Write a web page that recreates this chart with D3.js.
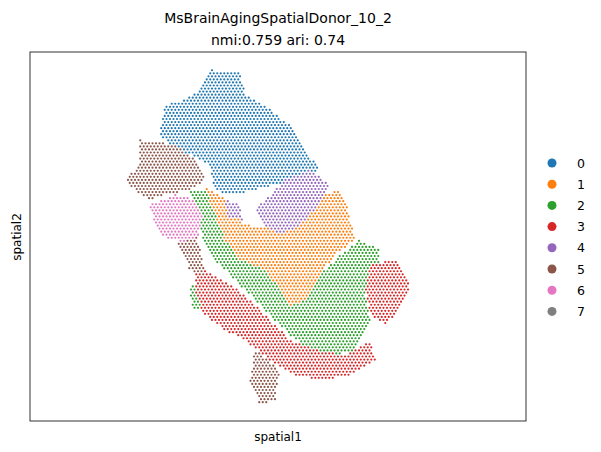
<!DOCTYPE html>
<html><head><meta charset="utf-8">
<script src="https://cdn.jsdelivr.net/npm/d3@7"></script>
<style>body{margin:0;background:#fff}text{font-family:"DejaVu Sans",sans-serif}</style>
</head><body><div id="chart"></div>
<script>
// cluster labels and colours
const clusters = ["0","1","2","3","4","5","6","7"];
const colors = ["#1f77b4","#ff7f0e","#2ca02c","#d62728","#9467bd","#8c564b","#e377c2","#7f7f7f"];

// outlines of each cluster region (spatial units)
const region6 = [[120,153],[145,143],[165,148],[172,163],[168,183],[155,190],[135,186],[125,173]];
const region5 = [[110,88],[145,93],[165,108],[175,128],[160,138],[135,143],[120,148],[105,138],[95,128],[110,113]];
const region5b = [[140,158],[155,163],[170,193],[175,223],[160,218],[148,193]];
const region5c = [[225,298],[250,318],[245,348],[230,353],[220,328]];
const region4 = [[255,128],[280,118],[300,133],[290,153],[270,173],[250,183],[235,173],[225,158],[240,143]];
const region4b = [[195,148],[210,153],[212,168],[198,166]];
const region1 = [[175,136],[190,143],[215,173],[235,176],[270,173],[290,143],[310,138],[318,158],[325,188],[305,203],[290,223],[275,248],[260,253],[250,238],[235,218],[210,208],[195,188],[185,163]];
const region0 = [[180,18],[210,20],[215,43],[240,58],[260,73],[275,98],[290,118],[270,128],[245,133],[225,138],[200,143],[185,138],[180,113],[160,103],[145,98],[130,83],[135,53],[155,48],[170,38]];
const region3 = [[165,213],[185,223],[215,243],[240,268],[260,288],[285,298],[315,303],[340,288],[345,308],[320,323],[290,328],[265,323],[240,308],[215,288],[195,278],[175,263],[165,243]];
const region3b = [[340,213],[365,208],[380,233],[370,258],[355,273],[340,263],[335,238]];
const region2 = [[160,138],[180,138],[185,163],[195,188],[210,208],[235,218],[255,243],[270,253],[290,223],[310,203],[330,188],[350,198],[348,218],[335,238],[340,268],[325,298],[305,303],[280,298],[260,283],[240,263],[220,243],[200,223],[180,203],[170,178]];
const region2b = [[160,233],[170,235],[172,258],[162,256]];

// draw order / priority: [cluster index, polygon]
const regions = [[6,region6],[5,region5],[5,region5b],[5,region5c],[4,region4],[4,region4b],
  [1,region1],[0,region0],[3,region3],[3,region3b],[2,region2],[2,region2b]];

const W = 601, H = 452;
const frame = {left:30, top:52, right:526, bottom:421};
const x = d3.scaleLinear().domain([0,496]).range([frame.left,frame.right]);
const y = d3.scaleLinear().domain([0,369]).range([frame.top,frame.bottom]);

// hex grid of spots, each assigned to the first region containing it
const spots = [];
const step = 3.5;
let row = 0;
for (let sy = 0; sy < 369; sy += step*0.87, row++) {
  for (let sx = (row%2)*step/2; sx < 496; sx += step) {
    const hit = regions.find(r => d3.polygonContains(r[1],[sx,sy]));
    if (hit) spots.push({x:sx, y:sy, c:hit[0]});
  }
}

const svg = d3.select("#chart").append("svg").attr("width",W).attr("height",H);
svg.append("g").selectAll("circle").data(spots).join("circle")
  .attr("cx",d=>x(d.x)).attr("cy",d=>y(d.y)).attr("r",1.1)
  .attr("fill",d=>colors[d.c]);

svg.append("rect").attr("x",frame.left).attr("y",frame.top)
  .attr("width",frame.right-frame.left).attr("height",frame.bottom-frame.top)
  .attr("fill","none").attr("stroke","black").attr("stroke-width",0.8);

svg.append("text").attr("x",278).attr("y",23).attr("text-anchor","middle").attr("font-size",14).text("MsBrainAgingSpatialDonor_10_2");
svg.append("text").attr("x",278).attr("y",45).attr("text-anchor","middle").attr("font-size",14).text("nmi:0.759 ari: 0.74");
svg.append("text").attr("x",278).attr("y",441).attr("text-anchor","middle").attr("font-size",12).text("spatial1");
svg.append("text").attr("transform","translate(21,237) rotate(-90)").attr("text-anchor","middle").attr("font-size",12).text("spatial2");

const legend = svg.append("g").selectAll("g").data(clusters).join("g")
  .attr("transform",(d,i)=>`translate(552,${163+i*21.2})`);
legend.append("circle").attr("r",4.5).attr("fill",(d,i)=>colors[i]);
legend.append("text").attr("x",25).attr("y",4.5).attr("font-size",12.5).text(d=>d);
</script></body></html>
